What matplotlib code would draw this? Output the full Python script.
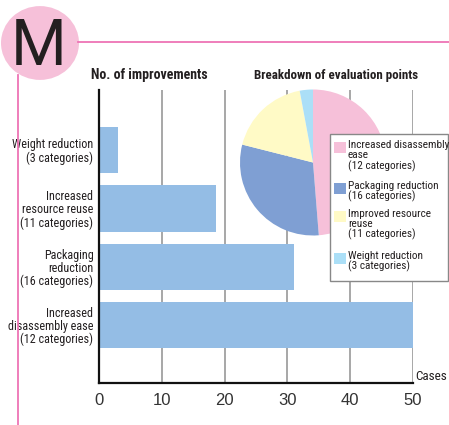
import matplotlib
matplotlib.use("Agg")
import matplotlib.pyplot as plt
from matplotlib.patches import Circle, Rectangle
from matplotlib.lines import Line2D

# Bar data (cases per improvement type), listed bottom to top
bar_labels = ["Increased\ndisassembly ease\n(12 categories)",
              "Packaging\nreduction\n(16 categories)",
              "Increased\nresource reuse\n(11 categories)",
              "Weight reduction\n(3 categories)"]
bar_values = [50, 31, 18.6, 3]

# Pie data, clockwise from the top
pie_values = [50, 31, 18.6, 3]
pie_colors = ["#f6c0d9", "#7f9fd3", "#fffac6", "#abdff7"]
legend_labels = ["Increased disassembly\nease\n(12 categories)",
                 "Packaging reduction\n(16 categories)",
                 "Improved resource\nreuse\n(11 categories)",
                 "Weight reduction\n(3 categories)"]

x_ticks = [0, 10, 20, 30, 40, 50]

narrow = ["Roboto Condensed", "Liberation Sans Narrow", "DejaVu Sans"]
W, H = 449, 425

fig = plt.figure(figsize=(W / 100, H / 100), dpi=100)


def fx(px):
    return px / W


def fy(py):
    return 1 - py / H


# header decoration: pink rule lines and the lettered circle
fig.add_artist(Line2D([fx(78), 1.0], [fy(42), fy(42)], color="#ee74b5", lw=1.3))
fig.add_artist(Line2D([fx(17.5), fx(17.5)], [fy(75), 0], color="#ee74b5", lw=1.3))
fig.add_artist(Circle((fx(40), fy(43)), 39 / W, transform=fig.transFigure,
                      facecolor="#f6c0d9", edgecolor="none"))
fig.text(fx(39), fy(47), "M", ha="center", va="center", fontsize=46,
         color="#231f20", family=["Roboto", "DejaVu Sans"], fontweight="normal")

# bar chart
ax = fig.add_axes([fx(99), fy(383), fx(413) - fx(99), fy(90) - fy(383)])
ypos = list(range(len(bar_values)))
ax.barh(ypos, bar_values, height=0.79, color="#94bde5", zorder=2)
ax.set_xlim(0, 50)
ax.set_ylim(-0.99, 4.03)
ax.set_xticks(x_ticks)
ax.set_xticklabels([str(t) for t in x_ticks], fontsize=12, color="#333333",
                   family="Liberation Sans")
ax.set_yticks(ypos)
ax.set_yticklabels(bar_labels, fontsize=8.7, family=narrow, linespacing=1.0,
                   color="#231f20")
ax.tick_params(axis="both", length=0, pad=4)
ax.tick_params(axis="x", pad=7)
ax.xaxis.grid(True, color="#a0a0a0", lw=1.3, zorder=1)
for s in ["top", "right"]:
    ax.spines[s].set_visible(False)
for s in ["left", "bottom"]:
    ax.spines[s].set_linewidth(1.6)
    ax.spines[s].set_color("#111111")
    ax.spines[s].set_zorder(3)
ax.text(50.4, -0.99, "Cases", fontsize=9.5, family=narrow, va="bottom",
        ha="left", color="#231f20", clip_on=False)

fig.text(fx(149), fy(75), "No. of improvements", ha="center", va="center",
         fontsize=10, fontweight="bold", family=narrow, color="#231f20")
fig.text(fx(336), fy(75), "Breakdown of evaluation points", ha="center",
         va="center", fontsize=9.4, fontweight="bold", family=narrow,
         color="#231f20")

# pie chart
r = 73
pax = fig.add_axes([fx(313 - r), fy(162.5 + r), 2 * r / W, 2 * r / H])
pax.pie(pie_values, colors=pie_colors, startangle=90, counterclock=False,
        radius=1.0)
pax.set_xlim(-1, 1)
pax.set_ylim(-1, 1)
pax.set_aspect("equal")
pax.axis("off")

# legend box drawn over the pie
fig.add_artist(Rectangle((fx(330), fy(281)), fx(448) - fx(330), fy(134) - fy(281),
                         transform=fig.transFigure, facecolor="white",
                         edgecolor="#888888", lw=1.0))
entry_tops = [142, 183, 211, 253]
for top, col, lab in zip(entry_tops, pie_colors, legend_labels):
    fig.add_artist(Rectangle((fx(334), fy(top + 11)), 12 / W, 11 / H,
                             transform=fig.transFigure, facecolor=col,
                             edgecolor="none"))
    fig.text(fx(348), fy(top - 2), lab, ha="left", va="top", fontsize=8.1,
             family=narrow, linespacing=1.0, color="#231f20")

fig.savefig("out.png", dpi=100)
